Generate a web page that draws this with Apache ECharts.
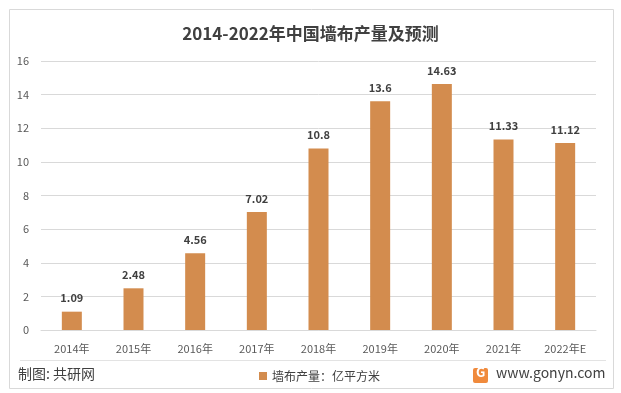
<!DOCTYPE html>
<html><head><meta charset="utf-8">
<script src="https://cdn.jsdelivr.net/npm/echarts@6/dist/echarts.min.js"></script>
<style>html,body{margin:0;padding:0;background:#fff}#c{width:621px;height:393px}</style>
</head><body><div id="c"></div>
<script>
const categories = ['2014年','2015年','2016年','2017年','2018年','2019年','2020年','2021年','2022年E'];
const values = [1.09, 2.48, 4.56, 7.02, 10.8, 13.6, 14.63, 11.33, 11.12];
const seriesName = '墙布产量：亿平方米';
const titleText = '2014-2022年中国墙布产量及预测';
const FONT = '"Noto Sans CJK SC", "Noto Sans", sans-serif';
const chart = echarts.init(document.getElementById('c'));
chart.setOption({
  animation: false,
  textStyle: {fontFamily: FONT},
  title: {text: titleText, left: 'center', top: 20,
    textStyle: {fontSize: 17, fontWeight: 'bold', color: '#404040', fontFamily: FONT}},
  legend: {data: [seriesName], left: 254, top: 365, itemWidth: 8, itemHeight: 8, itemGap: 4,
    icon: 'rect', textStyle: {fontSize: 12, color: '#404040', fontFamily: FONT}},
  grid: {left: 41, right: 25, top: 61, bottom: 63, containLabel: false},
  xAxis: {type: 'category', data: categories,
    axisLine: {lineStyle: {color: '#D9D9D9'}}, axisTick: {show: false},
    axisLabel: {color: '#595959', fontSize: 11, margin: 13, fontFamily: FONT, interval: 0}},
  yAxis: {type: 'value', min: 0, max: 16, interval: 2,
    axisLine: {show: false}, axisTick: {show: false},
    splitLine: {lineStyle: {color: '#D9D9D9'}},
    axisLabel: {color: '#595959', fontSize: 11, margin: 12, fontFamily: FONT}},
  series: [{name: seriesName, type: 'bar', data: values, barWidth: 20,
    itemStyle: {color: '#D38C4E'},
    label: {show: true, position: 'top', distance: 8, color: '#404040', fontSize: 11, fontWeight: 'bold', fontFamily: FONT}}],
  graphic: [
    {type: 'rect', shape: {x: 9.5, y: 9.5, width: 604, height: 379}, style: {fill: 'none', stroke: '#D9D9D9', lineWidth: 1}, silent: true, z: -1},
    {type: 'line', shape: {x1: 20, y1: 360.5, x2: 606, y2: 360.5}, style: {stroke: '#E3E3E3', lineWidth: 1}},
    {type: 'text', left: 18, top: 367, style: {text: '制图: 共研网', fontSize: 14, fill: '#404040', fontFamily: FONT}},
    {type: 'rect', shape: {x: 473, y: 368, width: 15, height: 15, r: 2}, style: {fill: '#F08A3C'}},
    {type: 'text', left: 476, top: 366, style: {text: 'G', fontSize: 13, fontWeight: 'bold', fill: '#fff', fontFamily: FONT}},
    {type: 'text', left: 496, top: 366, style: {text: 'www.gonyn.com', fontSize: 14, fill: '#404040', fontFamily: FONT}}
  ]
});
</script></body></html>
